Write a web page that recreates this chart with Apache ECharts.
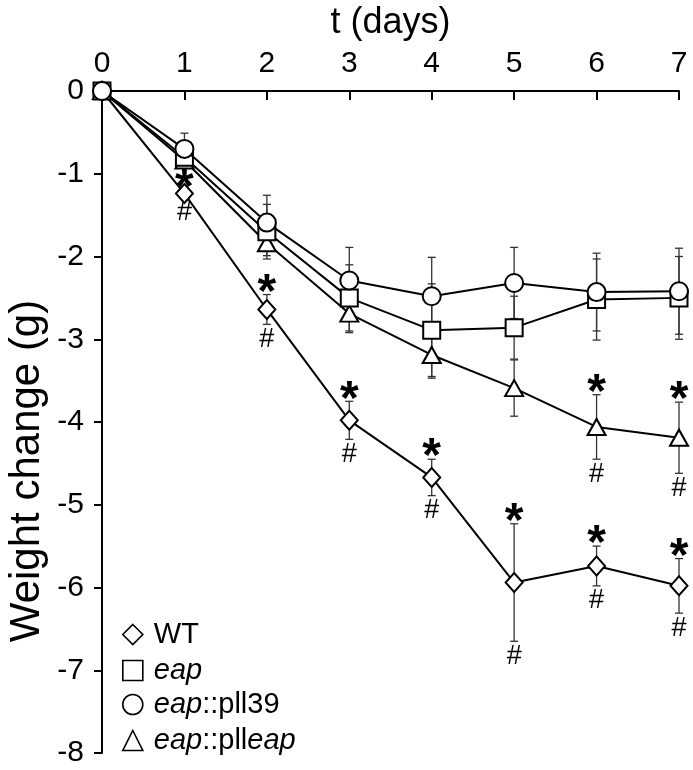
<!DOCTYPE html>
<html>
<head>
<meta charset="utf-8">
<script src="https://cdn.jsdelivr.net/npm/echarts@6/dist/echarts.min.js"></script>
<style>
html,body{margin:0;padding:0;background:#fff;}
#chart{width:693px;height:770px;}
</style>
</head>
<body>
<div id="chart"></div>
<script>
// ---- data ----
const days = [0, 1, 2, 3, 4, 5, 6, 7];
const seriesNames = ['WT', 'eap', 'eap::pll39', 'eap::plleap'];

const wt        = [0, -1.24, -2.64, -3.98, -4.67, -5.94, -5.74, -5.98];
const wtErr     = [0,  0.05,  0.18,  0.23,  0.22,  0.71,  0.24,  0.33];
const eap       = [0, -0.80, -1.70, -2.50, -2.89, -2.86, -2.52, -2.50];
const eapErr    = [0,  0.06,  0.33,  0.40,  0.56,  0.38,  0.49,  0.50];
const pll39     = [0, -0.70, -1.59, -2.29, -2.48, -2.32, -2.43, -2.42];
const pll39Err  = [0,  0.19,  0.33,  0.40,  0.47,  0.43,  0.47,  0.52];
const plleap    = [0, -0.84, -1.84, -2.69, -3.19, -3.59, -4.06, -4.19];
const plleapErr = [0,  0.08,  0.15,  0.23,  0.28,  0.34,  0.39,  0.43];

// significance marks (* above, # below), 1 = shown
const wtSig     = [0, 1, 1, 1, 1, 1, 1, 1];
const eapSig    = [0, 0, 0, 0, 0, 0, 0, 0];
const pll39Sig  = [0, 0, 0, 0, 0, 0, 0, 0];
const plleapSig = [0, 0, 0, 0, 0, 0, 1, 1];

const xTickMin = 0, xTickMax = 7, xTickStep = 1;
const yTickMin = -8, yTickMax = 0, yTickStep = 1;

// ---- chart ----
const FONT = '"Liberation Sans", Arial, Helvetica, sans-serif';
const chart = echarts.init(document.getElementById('chart'), null, {renderer: 'canvas'});

function errRender(params, api) {
  const x = api.value(0), m = api.value(1), e = api.value(2), sig = api.value(3);
  const top = api.coord([x, m + e]);
  const bot = api.coord([x, m - e]);
  const cap = 4;
  const children = [];
  const st = {stroke: '#333', lineWidth: 1.3};
  if (e > 0) {
    children.push({type: 'line', shape: {x1: top[0], y1: top[1], x2: bot[0], y2: bot[1]}, style: st});
    children.push({type: 'line', shape: {x1: top[0] - cap, y1: top[1], x2: top[0] + cap, y2: top[1]}, style: st});
    children.push({type: 'line', shape: {x1: bot[0] - cap, y1: bot[1], x2: bot[0] + cap, y2: bot[1]}, style: st});
  }
  if (sig) {
    children.push({type: 'text', style: {text: '*', x: top[0], y: top[1] - 1,
      fontFamily: FONT, fontSize: 48, fontWeight: 'bold', fill: '#000', align: 'center', verticalAlign: 'middle'}});
    children.push({type: 'text', style: {text: '#', x: bot[0], y: bot[1] + 15,
      fontFamily: FONT, fontSize: 27, fill: '#000', align: 'center', verticalAlign: 'middle'}});
  }
  return {type: 'group', children: children};
}

function pts(vals) { return days.map((d, i) => [d, vals[i]]); }
function errData(vals, errs, sig) { return days.map((d, i) => [d, vals[i], errs[i], sig[i]]); }

const groups = [
  {name: seriesNames[0], vals: wt,     errs: wtErr,     sig: wtSig,     symbol: 'diamond',  size: [17, 19], z: 3},
  {name: seriesNames[3], vals: plleap, errs: plleapErr, sig: plleapSig, symbol: 'triangle', size: [18, 16], z: 4},
  {name: seriesNames[1], vals: eap,    errs: eapErr,    sig: eapSig,    symbol: 'rect',     size: 17,       z: 5},
  {name: seriesNames[2], vals: pll39,  errs: pll39Err,  sig: pll39Sig,  symbol: 'circle',   size: 18,       z: 6}
];

const series = [];
groups.forEach(g => {
  series.push({
    name: g.name + ' err', type: 'custom', renderItem: errRender, z: 2,
    data: errData(g.vals, g.errs, g.sig), silent: true, clip: false
  });
});
groups.forEach(g => {
  series.push({
    name: g.name, type: 'line', data: pts(g.vals), z: g.z,
    symbol: g.symbol, symbolSize: g.size, showAllSymbol: true, clip: false,
    lineStyle: {color: '#000', width: 2},
    itemStyle: {color: '#fff', borderColor: '#000', borderWidth: 2, opacity: 1},
    emphasis: {disabled: true}
  });
});

const legendIcons = {'WT': 'diamond', 'eap': 'rect', 'eap::pll39': 'circle', 'eap::plleap': 'triangle'};
const legendText = {
  'WT': 'WT',
  'eap': '{i|eap}',
  'eap::pll39': '{i|eap}::pll39',
  'eap::plleap': '{i|eap}::pll{i|eap}'
};
const legendRowTop = [615, 651, 685, 721];

const legends = seriesNames.map((n, k) => ({
  orient: 'vertical', left: 117, top: legendRowTop[k],
  itemWidth: 20, itemHeight: 20,
  data: [{name: n, icon: legendIcons[n]}],
  itemStyle: {color: '#fff', borderColor: '#000', borderWidth: 1.6},
  textStyle: {fontFamily: FONT, fontSize: 29, color: '#000', lineHeight: 22, padding: [0, 0, 0, 6],
    rich: {i: {fontFamily: FONT, fontSize: 29, fontStyle: 'italic', color: '#000', lineHeight: 22}}},
  formatter: nm => legendText[nm],
  selectedMode: false
}));

chart.setOption({
  animation: false,
  backgroundColor: '#fff',
  grid: {left: 102, right: 14, top: 89, bottom: 17},
  xAxis: {
    type: 'value', position: 'top', min: xTickMin, max: xTickMax, interval: xTickStep,
    name: 't (days)', nameLocation: 'middle', nameGap: 50,
    nameTextStyle: {fontFamily: FONT, fontSize: 36, color: '#000'},
    axisLine: {show: true, onZero: false, lineStyle: {color: '#000', width: 2}},
    axisTick: {show: true, inside: true, length: 9, lineStyle: {color: '#000', width: 2}},
    axisLabel: {fontFamily: FONT, fontSize: 30, color: '#000', margin: 12},
    splitLine: {show: false}
  },
  yAxis: {
    type: 'value', min: yTickMin, max: yTickMax, interval: yTickStep,
    axisLine: {show: true, onZero: false, lineStyle: {color: '#000', width: 2}},
    axisTick: {show: true, inside: false, length: 8, lineStyle: {color: '#000', width: 2}},
    axisLabel: {fontFamily: FONT, fontSize: 30, color: '#000', margin: 18},
    splitLine: {show: false}
  },
  legend: legends,
  graphic: [{
    type: 'text',
    x: 27, y: 471,
    rotation: Math.PI / 2,
    style: {text: 'Weight change (g)', fontFamily: FONT, fontSize: 42, fill: '#000',
      align: 'center', verticalAlign: 'middle'}
  }],
  series: series
});
</script>
</body>
</html>
